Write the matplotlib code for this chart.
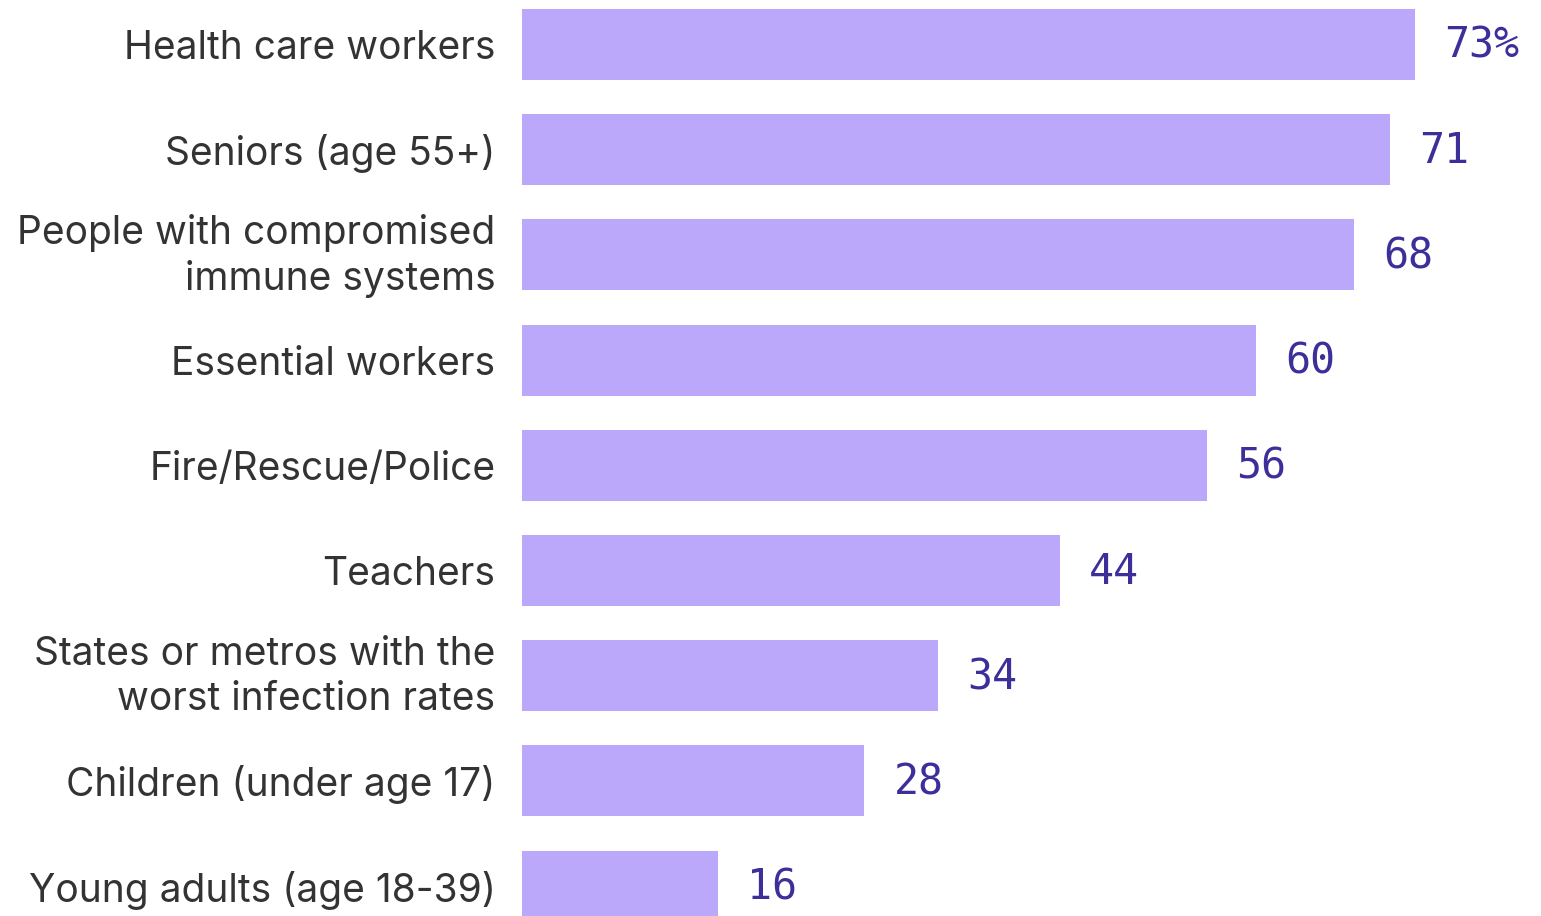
import matplotlib
matplotlib.use("Agg")
import matplotlib.pyplot as plt
import matplotlib.transforms as mtransforms

categories = [
    "Health care workers",
    "Seniors (age 55+)",
    "People with compromised\nimmune systems",
    "Essential workers",
    "Fire/Rescue/Police",
    "Teachers",
    "States or metros with the\nworst infection rates",
    "Children (under age 17)",
    "Young adults (age 18-39)",
]
values = [73, 71, 68, 60, 56, 44, 34, 28, 16]
value_labels = ["73%", "71", "68", "60", "56", "44", "34", "28", "16"]

W, H = 1541, 916
fig = plt.figure(figsize=(W / 100, H / 100), dpi=100)
ax = fig.add_axes([522 / W, 0, 1 - 522 / W, 1])

bar_color = "#bba8fb"
ypos = list(range(len(categories)))
ax.barh(ypos, values, height=0.675, color=bar_color)

ax.set_xlim(0, (W - 522) / 12.23)
ax.set_ylim(8.285, -0.423)

ax.set_yticks(ypos)
ax.set_yticklabels(categories, fontsize=28, color="#333333", family="Inter",
                   linespacing=1.27)
ax.tick_params(axis="y", length=0, pad=19)
ax.set_xticks([])
for s in ax.spines.values():
    s.set_visible(False)

shift = mtransforms.ScaledTranslation(0, 5 / 72, fig.dpi_scale_trans)
for lbl in ax.get_yticklabels():
    if "\n" in lbl.get_text():
        lbl.set_transform(lbl.get_transform() + shift)

for y, v, lab in zip(ypos, values, value_labels):
    ax.annotate(lab, xy=(v, y), xytext=(21, -1), textcoords="offset points",
                ha="left", va="center", fontsize=30, color="#3d2f9a",
                family="DejaVu Sans Mono")

fig.savefig("out.png", dpi=100, facecolor="white")
